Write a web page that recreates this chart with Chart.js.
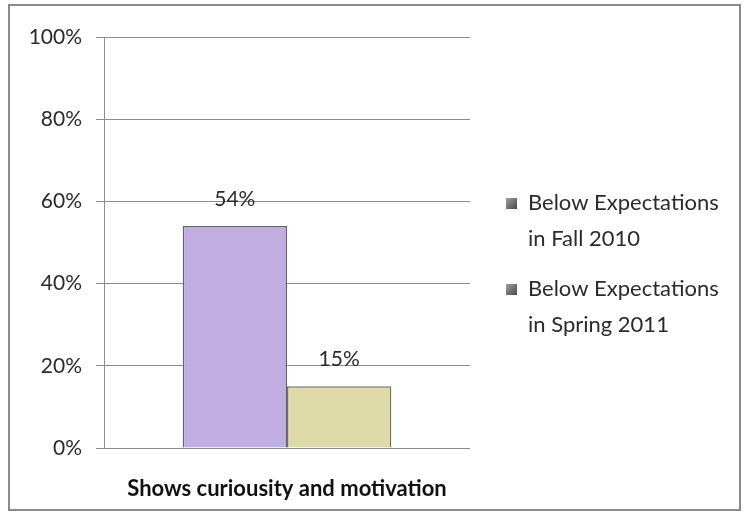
<html>
<head>
<meta charset="utf-8">
<style>
  body { margin: 0; background: #fff; }
  .chart-box { position: relative; width: 746px; height: 518px; }
</style>
</head>
<body>
<script src="https://cdn.jsdelivr.net/npm/chart.js@4.4.0/dist/chart.umd.min.js"></script>
<div class="chart-box"><canvas id="skillChart" width="746" height="518"></canvas></div>
<script>
  // chart data
  let categories = ["Shows curiousity and motivation"];
  let fallValues = [54];
  let springValues = [15];
  let seriesNames = [
    ["Below Expectations", "in Fall 2010"],
    ["Below Expectations", "in Spring 2011"],
  ];
  let yTicks = [0, 20, 40, 60, 80, 100];

  let chartFont = "Lato, 'Open Sans', sans-serif";
  let textColor = "#2b2b2b";
  let gridColor = "#8c8c8c";

  // frame round the whole picture
  let framePlugin = {
    id: "frame",
    beforeDraw(chart) {
      let ctx = chart.ctx;
      ctx.save();
      ctx.fillStyle = "#fff";
      ctx.fillRect(0, 0, chart.width, chart.height);
      ctx.strokeStyle = "#8a8a8a";
      ctx.lineWidth = 2;
      ctx.strokeRect(9, 5, 731, 505);
      ctx.restore();
    },
  };

  // value labels above the bars
  let valueLabels = {
    id: "valueLabels",
    afterDatasetsDraw(chart) {
      let ctx = chart.ctx;
      ctx.save();
      ctx.font = "21px " + chartFont;
      ctx.fillStyle = textColor;
      ctx.textAlign = "center";
      ctx.textBaseline = "middle";
      chart.data.datasets.forEach((ds, i) => {
        chart.getDatasetMeta(i).data.forEach((bar, j) => {
          ctx.fillText(ds.data[j] + "%", bar.x, bar.y - 27);
        });
      });
      ctx.restore();
    },
  };

  // legend on the right with two-line labels
  let sideLegend = {
    id: "sideLegend",
    afterDraw(chart) {
      let ctx = chart.ctx;
      ctx.save();
      ctx.font = "22px " + chartFont;
      ctx.textBaseline = "middle";
      let startY = [203, 289];
      chart.data.datasets.forEach((ds, i) => {
        let y = startY[i];
        let g = ctx.createLinearGradient(506, y - 5, 516, y + 5);
        g.addColorStop(0, "#a0a0a0");
        g.addColorStop(1, "#505050");
        ctx.fillStyle = g;
        ctx.fillRect(506, y - 5, 11, 11);
        ctx.fillStyle = textColor;
        seriesNames[i].forEach((line, k) => {
          ctx.fillText(line, 528, y + k * 36);
        });
      });
      ctx.restore();
    },
  };

  let ctx = document.getElementById("skillChart").getContext("2d");
  new Chart(ctx, {
    type: "bar",
    data: {
      labels: categories,
      datasets: [
        {
          label: seriesNames[0].join(" "),
          data: fallValues,
          backgroundColor: "#c0aee0",
          borderColor: "#6a5e7e",
          borderWidth: 1.5,
        },
        {
          label: seriesNames[1].join(" "),
          data: springValues,
          backgroundColor: "#dedaa8",
          borderColor: "#727058",
          borderWidth: 1.5,
        },
      ],
    },
    options: {
      responsive: false,
      animation: false,
      layout: { padding: { top: 37, right: 276, left: 0, bottom: 0 } },
      datasets: { bar: { categoryPercentage: 0.57, barPercentage: 1 } },
      plugins: {
        legend: { display: false },
        tooltip: { enabled: false },
      },
      scales: {
        x: {
          grid: { display: false },
          border: { display: false },
          ticks: {
            color: "#111",
            padding: 20,
            font: { family: chartFont, size: 22, weight: "bold" },
          },
          afterFit(scale) { scale.height = 70; },
        },
        y: {
          min: 0,
          max: 100,
          afterBuildTicks(scale) { scale.ticks = yTicks.map(v => ({ value: v })); },
          grid: { color: gridColor, tickLength: 8, lineWidth: 1 },
          border: { color: gridColor, width: 1 },
          ticks: {
            color: textColor,
            padding: 14,
            font: { family: chartFont, size: 21 },
            callback: v => v + "%",
          },
          afterFit(scale) { scale.width = 104; },
        },
      },
    },
    plugins: [framePlugin, valueLabels, sideLegend],
  });
</script>
</body>
</html>
